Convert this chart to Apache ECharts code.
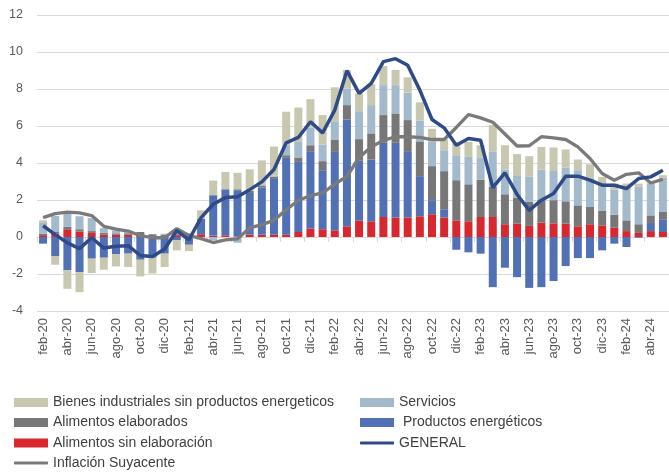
<!DOCTYPE html>
<html><head><meta charset="utf-8">
<script src="https://cdn.jsdelivr.net/npm/echarts@6/dist/echarts.min.js"></script>
<style>html,body{margin:0;padding:0;background:#fff}#c{width:669px;height:473px}</style>
</head><body><div id="c"></div>
<script>
const categories = ['feb-20','mar-20','abr-20','may-20','jun-20','jul-20','ago-20','sep-20','oct-20','nov-20','dic-20',
 'ene-21','feb-21','mar-21','abr-21','may-21','jun-21','jul-21','ago-21','sep-21','oct-21','nov-21','dic-21',
 'ene-22','feb-22','mar-22','abr-22','may-22','jun-22','jul-22','ago-22','sep-22','oct-22','nov-22','dic-22',
 'ene-23','feb-23','mar-23','abr-23','may-23','jun-23','jul-23','ago-23','sep-23','oct-23','nov-23','dic-23',
 'ene-24','feb-24','mar-24','abr-24','may-24'];

const alimentosSinElab = [0.10,0.18,0.42,0.29,0.22,0.13,0.12,0.12,0.08,0.03,0.03,0.10,0.10,0.15,0.07,0.09,0.03,0.13,0.12,
 0.12,0.12,0.27,0.45,0.42,0.36,0.58,0.88,0.85,1.08,1.05,1.05,1.12,1.23,1.05,0.90,0.85,1.08,1.08,0.69,0.72,0.60,0.78,0.74,
 0.72,0.58,0.69,0.63,0.50,0.32,0.22,0.32,0.27];
const energeticos = [-0.36,-1.05,-1.80,-1.90,-1.17,-1.12,-0.94,-0.90,-1.23,-1.12,-0.90,-0.18,-0.42,0.84,2.19,2.49,2.50,2.25,2.55,
 3.02,4.16,3.79,4.19,3.19,4.24,5.77,3.24,3.34,4.01,4.04,3.59,2.17,0.76,0.45,-0.69,-0.83,-0.90,-2.71,-1.66,-2.17,-2.75,-2.71,
 -2.38,-1.57,-1.14,-1.14,-0.72,-0.36,-0.54,-0.04,0.44,0.69];
const alimentosElab = [0.07,0.09,0.13,0.13,0.10,0.10,0.08,0.08,0.19,0.12,0.10,0.05,0.05,0,0,0,0.05,0.11,0.09,
 0.12,0.14,0.24,0.32,0.49,0.67,0.78,1.17,1.41,1.50,1.59,1.68,1.88,1.84,2.06,2.17,2.00,2.02,1.63,1.62,1.41,1.30,1.21,1.25,
 1.21,1.13,0.93,0.78,0.71,0.58,0.47,0.41,0.39];
const servicios = [0.63,0.87,0.75,0.70,0.70,0.25,0.16,0.13,0,0,0.05,0.20,0.05,0,-0.18,0,-0.31,0,0.05,
 0.05,0.54,0.84,0.96,0.90,0.99,0.90,1.51,1.53,1.62,1.53,1.48,1.13,1.31,1.13,1.35,1.48,1.20,1.89,1.34,1.21,1.35,1.66,1.62,
 1.82,1.90,1.59,1.51,1.35,1.81,2.02,1.72,1.86];
const bienesInd = [0.10,-0.45,-1.00,-1.08,-0.78,-0.65,-0.65,-0.72,-0.90,-0.85,-0.72,-0.54,-0.34,0.45,0.79,0.94,0.89,1.17,1.33,
 1.58,1.81,1.86,1.53,1.59,1.83,1.00,0.96,1.12,1.03,0.82,0.83,0.98,0.71,0.58,0.72,0.81,0.66,1.45,1.31,1.14,1.12,1.22,1.23,
 0.98,0.58,0.72,0.33,0.33,0.18,0.18,0.09,0.13];
const general = [0.61,0.13,-0.32,-0.63,-0.04,-0.60,-0.50,-0.47,-1.00,-1.05,-0.65,0.35,-0.15,1.05,1.77,2.13,2.17,2.56,2.98,
 3.65,5.09,5.38,6.23,5.63,6.86,8.99,7.76,8.30,9.48,9.64,9.28,7.94,6.35,5.90,4.96,5.32,5.23,2.67,3.47,2.30,1.44,1.99,2.35,
 3.29,3.29,3.07,2.80,2.80,2.62,3.16,3.25,3.61];
const subyacente = [1.05,1.26,1.34,1.30,1.16,0.58,0.43,0.32,0.07,-0.04,-0.04,0.45,0.09,-0.09,-0.30,-0.15,-0.10,0.49,0.67,
 0.90,1.47,1.97,2.24,2.38,2.86,3.27,4.30,4.87,5.22,5.42,5.42,5.38,5.27,5.27,5.92,6.62,6.44,6.20,5.57,4.92,4.93,5.42,5.36,
 5.27,4.87,4.24,3.43,3.07,3.39,3.47,2.92,3.12];

const FONT = '"Liberation Sans", Arial, sans-serif';
const names = {
  bi: 'Bienes industriales sin productos energeticos',
  se: 'Servicios',
  ae: 'Alimentos elaborados',
  pe: ' Productos energéticos',
  as: 'Alimentos sin elaboración',
  ge: 'GENERAL',
  su: 'Inflación Suyacente'
};
const colors = {bi:'#c8c8b0', se:'#a3bacd', ae:'#777777', pe:'#5271b5', as:'#d7282f', ge:'#2f4b87', su:'#7a7a7a'};

function bar(key, data){
  return {name: names[key], type:'bar', stack:'total', data:data, barWidth:8,
    itemStyle:{color:colors[key]}, xAxisIndex:0, yAxisIndex:0, z:2};
}
function line(key, data, w){
  return {name: names[key], type:'line', data:data, symbol:'none', showSymbol:false,
    lineStyle:{color:colors[key], width:w}, itemStyle:{color:colors[key]}, xAxisIndex:0, yAxisIndex:0, z:5};
}
const legendText = {fontSize:14, color:'#404040', fontFamily:FONT, lineHeight:14};
function leg(key, left, centerY, isLine){
  return {data:[names[key]], left:left, top:centerY - 7, padding:0, orient:'horizontal',
    itemWidth:34, itemHeight: isLine ? 3 : 9, icon: isLine ? 'roundRect' : 'rect',
    textStyle:legendText, selectedMode:false};
}

const chart = echarts.init(document.getElementById('c'), null, {renderer:'canvas'});
chart.setOption({
  animation:false,
  backgroundColor:'#ffffff',
  grid:{left:37, top:15, width:634, height:296},
  legend:[
    leg('bi', 14, 402.5, false),
    leg('se', 360, 402.5, false),
    leg('ae', 14, 422.5, false),
    leg('pe', 360, 422.5, false),
    leg('as', 14, 443, false),
    leg('ge', 360, 443, true),
    leg('su', 14, 463, true)
  ],
  xAxis:[
    {type:'category', data:categories, axisLine:{onZero:true, lineStyle:{color:'#d9d9d9', width:1}},
     axisTick:{show:true, interval:1, length:5, lineStyle:{color:'#d9d9d9'}}, axisLabel:{show:false}},
    {type:'category', data:categories, position:'bottom', axisLine:{show:false, onZero:false},
     axisTick:{show:false}, splitLine:{show:false},
     axisLabel:{interval:1, rotate:90, margin:7, fontSize:13, color:'#595959', fontFamily:FONT}}
  ],
  yAxis:{type:'value', min:-4, max:12, interval:2,
    axisLine:{show:false}, axisTick:{show:false},
    splitLine:{lineStyle:{color:'#d9d9d9', width:1}},
    axisLabel:{fontSize:12.5, color:'#595959', fontFamily:FONT, margin:14}},
  series:[
    bar('as', alimentosSinElab),
    bar('pe', energeticos),
    bar('ae', alimentosElab),
    bar('se', servicios),
    bar('bi', bienesInd),
    line('su', subyacente, 3.3),
    line('ge', general, 3.5)
  ]
});
</script>
</body></html>
